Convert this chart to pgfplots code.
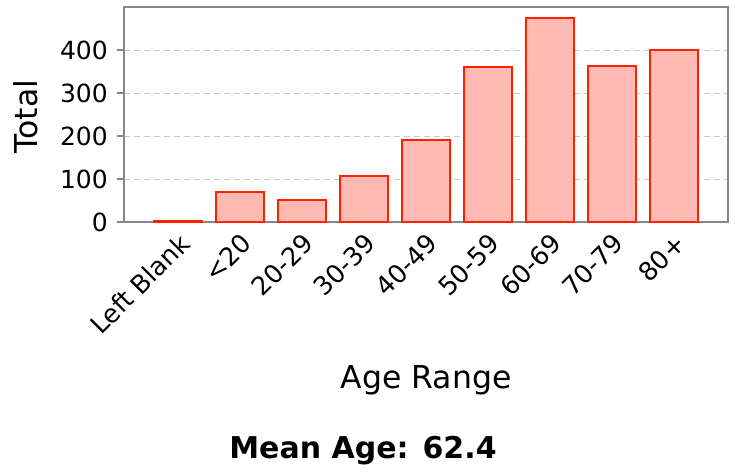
\documentclass[border=0pt]{standalone}
\usepackage{pgfplots}
\pgfplotsset{compat=1.18}
\usepackage{fontspec}
\setmainfont{DejaVu Sans}
\definecolor{barfill}{RGB}{255,186,180}
\definecolor{baredge}{RGB}{255,32,0}
\definecolor{axgray}{RGB}{135,135,135}
\definecolor{gridgray}{RGB}{200,200,200}
\begin{document}
\begin{tikzpicture}
\useasboundingbox (-124pt,-252pt) rectangle (611pt,222pt);
\begin{axis}[
  at={(0,0)}, anchor=south west,
  scale only axis, width=604pt, height=215pt,
  xmin=-0.87, xmax=8.87, ymin=0, ymax=500,
  xtick=data,
  xticklabels={Left Blank,<20,20-29,30-39,40-49,50-59,60-69,70-79,80+},
  x tick label style={rotate=45, anchor=north east, font=\fontsize{25.5}{30}\selectfont, inner sep=2pt},
  major x tick style={draw=none},
  ytick={0,100,200,300,400},
  yticklabels={0,100,200,300,400},
  ytick pos=left,
  y tick label style={font=\fontsize{25}{28}\selectfont, inner sep=2pt, xshift=-7pt},
  /pgf/number format/assume math mode=true,
  tick align=outside,
  major tick length=7pt,
  major y tick style={axgray, line width=1.5pt},
  ymajorgrids,
  grid style={gridgray, dash pattern=on 6pt off 4pt, line width=1pt},
  axis line style={axgray, line width=1.3pt},
  ylabel={Total},
  ylabel style={font=\fontsize{31.5}{36}\selectfont, at={(axis description cs:-0.162,0.49)}, anchor=center},
  xlabel={Age Range},
  xlabel style={font=\fontsize{31.5}{36}\selectfont, at={(axis description cs:0.5,-0.735)}, anchor=center},
  clip=false,
]
\addplot[ybar, bar width=0.77, fill=barfill, draw=baredge, line width=2pt]
  coordinates {(0,2) (1,69) (2,51) (3,106) (4,190) (5,360) (6,475) (7,363) (8,399)};
\end{axis}
\node[font=\fontsize{30}{34}\selectfont\bfseries, anchor=center] at (239pt,-229pt) {Mean Age: 62.4};
\end{tikzpicture}
\end{document}
